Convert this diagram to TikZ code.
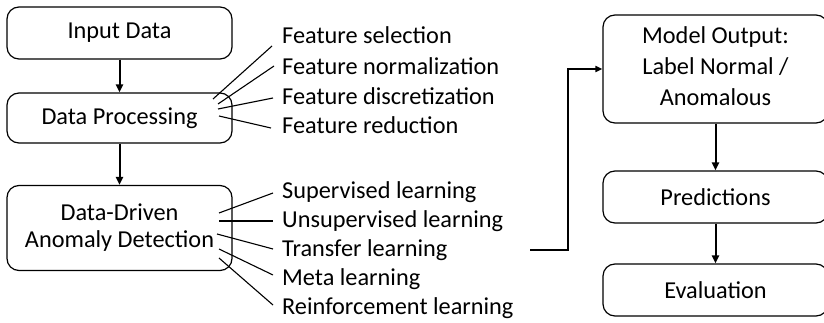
\documentclass[tikz,border=0pt]{standalone}
\usepackage{fontspec}
\setmainfont{Carlito}
\usetikzlibrary{arrows.meta}
\begin{document}
\begin{tikzpicture}[x=1pt,y=-1pt,
  box/.style={draw, line width=1.2pt, rounded corners=12pt, align=center, inner sep=0pt,
    font=\fontsize{24.3}{29}\selectfont, minimum width=225pt},
  lbl/.style={anchor=west, inner sep=0pt, font=\fontsize{24.3}{29}\selectfont},
  flow/.style={line width=2pt, -{Triangle[length=8pt,width=7pt]}},
  thin/.style={line width=1.1pt}]
\useasboundingbox (0,0) rectangle (824,323);
% left column
\node[box, minimum height=52pt] (in) at (119.5,33) {Input Data};
\node[box, minimum height=50pt] (dp) at (119.5,118) {Data Processing};
\node[box, minimum height=85pt, font=\fontsize{24.3}{27}\selectfont] (dd) at (119.5,228) {Data-Driven\\Anomaly Detection};
\draw[flow] (in.south) -- (dp.north);
\draw[flow] (dp.south) -- (dd.north);
% right column
\node[box, minimum height=108pt] (mo) at (715.5,69) {};
\node[align=center, inner sep=0pt, font=\fontsize{24.3}{31}\selectfont] (mot) at (715.5,66) {Model Output:\\Label Normal /\\Anomalous};
\node[box, minimum height=52pt] (pr) at (715.5,197) {Predictions};
\node[box, minimum height=52pt] (ev) at (715.5,290) {Evaluation};
\draw[flow] (mo.south) -- (pr.north);
\draw[flow] (pr.south) -- (ev.north);
% elbow connector
\coordinate (e0) at (530,250);
\coordinate (e1) at (568,250);
\draw[line width=2.6pt, -{Triangle[length=7pt,width=6pt]}] (e0) -- (e1) |- (mo.west);
% feature labels
\node[lbl] (f1) at (282,35) {Feature selection};
\node[lbl] (f2) at (282,66) {Feature normalization};
\node[lbl] (f3) at (282,96) {Feature discretization};
\node[lbl] (f4) at (282,125) {Feature reduction};
\coordinate (fs1) at (213,99);  \coordinate (fe1) at (272,46);
\coordinate (fs2) at (218,104); \coordinate (fe2) at (274,66);
\coordinate (fs3) at (218,109); \coordinate (fe3) at (273,98);
\coordinate (fs4) at (219,116); \coordinate (fe4) at (271,128);
\foreach \i in {1,...,4} \draw[thin] (fs\i) -- (fe\i);
% learning labels
\node[lbl] (l1) at (282,192) {Supervised learning};
\node[lbl] (l2) at (282,221) {Unsupervised learning};
\node[lbl] (l3) at (282,250) {Transfer learning};
\node[lbl] (l4) at (282,279) {Meta learning};
\node[lbl] (l5) at (282,308) {Reinforcement learning};
\coordinate (ls1) at (219,213); \coordinate (le1) at (273,193);
\coordinate (ls2) at (219,221); \coordinate (le2) at (273,221);
\coordinate (ls3) at (217,234); \coordinate (le3) at (273,249);
\coordinate (ls4) at (219,249); \coordinate (le4) at (273,275);
\coordinate (ls5) at (219,258); \coordinate (le5) at (273,305);
\foreach \i in {1,...,5} \draw[thin] (ls\i) -- (le\i);
\end{tikzpicture}
\end{document}
